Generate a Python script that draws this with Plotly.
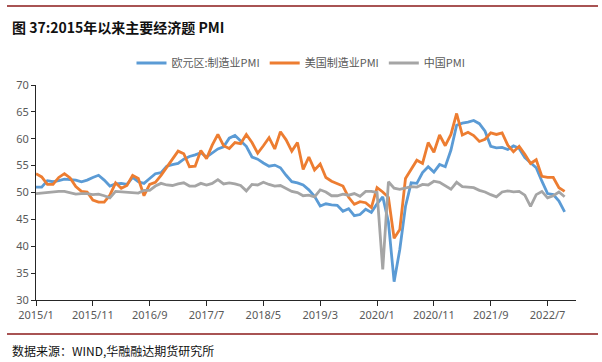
import plotly.graph_objects as go

months = [f"{y}/{m}" for y in range(2015, 2023) for m in range(1, 13)][:94]

euro = [51.0, 51.0, 52.2, 52.0, 52.2, 52.5, 52.4, 52.3, 52.0, 52.3, 52.8, 53.2,
        52.3, 51.2, 51.6, 51.7, 51.5, 52.8, 52.0, 51.7, 52.6, 53.5, 53.7, 54.9,
        55.2, 55.4, 56.2, 56.7, 57.0, 57.4, 56.6, 57.4, 58.1, 58.5, 60.1, 60.6,
        59.6, 58.6, 56.6, 56.2, 55.5, 54.9, 55.1, 54.6, 53.2, 52.0, 51.8, 51.4,
        50.5, 49.3, 47.5, 47.9, 47.7, 47.6, 46.5, 47.0, 45.7, 45.9, 46.9, 46.3,
        47.9, 49.2, 44.5, 33.4, 39.4, 47.4, 51.8, 51.7, 53.7, 54.8, 53.8, 55.2,
        54.8, 57.9, 62.5, 62.9, 63.1, 63.4, 62.8, 61.4, 58.6, 58.3, 58.4, 58.0,
        58.7, 58.2, 56.5, 55.5, 54.6, 52.1, 49.8, 49.6, 48.4, 46.4]

usa = [53.5, 52.9, 51.5, 51.5, 52.8, 53.5, 52.7, 51.1, 50.2, 50.1, 48.6, 48.2,
       48.2, 49.5, 51.8, 50.8, 51.3, 53.2, 52.6, 49.4, 51.5, 51.9, 53.2, 54.7,
       56.0, 57.7, 57.2, 54.8, 54.9, 57.8, 56.3, 58.8, 60.8, 58.7, 58.2, 59.3,
       59.1, 60.8, 59.3, 57.3, 58.7, 60.2, 58.1, 61.3, 59.8, 57.7, 59.3, 54.3,
       56.6, 54.2, 55.3, 52.8, 52.1, 51.7, 51.2, 49.1, 47.8, 48.3, 48.1, 47.2,
       50.9, 50.1, 49.1, 41.5, 43.1, 52.6, 54.2, 56.0, 55.4, 59.3, 57.5, 60.7,
       58.7, 60.8, 64.7, 60.7, 61.2, 60.6, 59.5, 59.9, 61.1, 60.8, 61.1, 58.8,
       57.6, 58.6, 57.1, 55.4, 56.1, 53.0, 52.8, 52.8, 50.9, 50.2]

china = [49.8, 49.9, 50.1, 50.1, 50.2, 50.2, 50.0, 49.7, 49.8, 49.8, 49.6, 49.7,
         49.4, 49.0, 50.2, 50.1, 50.1, 50.0, 49.9, 50.4, 50.4, 51.2, 51.7, 51.4,
         51.3, 51.6, 51.8, 51.2, 51.2, 51.7, 51.4, 51.7, 52.4, 51.6, 51.8, 51.6,
         51.3, 50.3, 51.5, 51.4, 51.9, 51.5, 51.2, 51.3, 50.8, 50.2, 50.0, 49.4,
         49.5, 49.2, 50.5, 50.1, 49.4, 49.4, 49.7, 49.5, 49.8, 49.3, 50.2, 50.2,
         50.0, 35.7, 52.0, 50.8, 50.6, 50.9, 51.1, 51.0, 51.5, 51.4, 52.1, 51.9,
         51.3, 50.6, 51.9, 51.1, 51.0, 50.9, 50.4, 50.1, 49.6, 49.2, 50.1, 50.3,
         50.1, 50.2, 49.5, 47.4, 49.6, 50.2, 49.0, 49.4, 50.1, 49.2]

tick_labels = ["2015/1", "2015/11", "2016/9", "2017/7", "2018/5",
               "2019/3", "2020/1", "2020/11", "2021/9", "2022/7"]
y_ticks = [30, 35, 40, 45, 50, 55, 60, 65, 70]

fig = go.Figure()
series = [("欧元区:制造业PMI", euro, "#5B9BD5"),
          ("美国制造业PMI", usa, "#ED7D31"),
          ("中国PMI", china, "#A5A5A5")]
for name, vals, col in series:
    fig.add_trace(go.Scatter(x=months, y=vals, name=name, mode="lines",
                             line=dict(color=col, width=2.8)))

W0, W1 = 36, 576
T, B = 85, 300
pw, ph = W1 - W0, B - T

def px(x):
    return (x - W0) / pw

def py(y):
    return (B - y) / ph

fig.update_layout(
    width=602, height=362,
    margin=dict(l=W0, r=602 - W1, t=T, b=362 - B, autoexpand=False),
    paper_bgcolor="white", plot_bgcolor="white",
    font=dict(family="Noto Sans CJK SC, sans-serif", color="#595959", size=11),
    showlegend=True,
    legend=dict(orientation="h", x=0.5, xanchor="center", xref="container",
                y=1 - 63 / 362, yanchor="middle", yref="container",
                font=dict(size=11, color="#595959"), itemwidth=30,
                bgcolor="rgba(0,0,0,0)"),
    xaxis=dict(type="category", range=[0, 95], tickmode="array",
               tickvals=tick_labels, ticktext=tick_labels,
               showline=True, linecolor="#262626", linewidth=1,
               ticks="outside", ticklen=5, tickcolor="#262626",
               showgrid=False, zeroline=False,
               tickfont=dict(family="Noto Sans, sans-serif", size=11, color="#595959")),
    yaxis=dict(range=[30, 70], tickvals=y_ticks,
               showline=True, linecolor="#262626", linewidth=1,
               ticks="outside", ticklen=4, tickcolor="#262626",
               showgrid=False, zeroline=False,
               tickfont=dict(family="Noto Sans, sans-serif", size=11, color="#595959")),
    shapes=[
        dict(type="line", xref="paper", yref="paper", x0=px(7), x1=px(598),
             y0=py(6), y1=py(6), line=dict(color="#8B1A1A", width=1.5)),
        dict(type="line", xref="paper", yref="paper", x0=px(7), x1=px(598),
             y0=py(334), y1=py(334), line=dict(color="#8B1A1A", width=1.5)),
    ],
    annotations=[
        dict(text="<b>图 37:2015年以来主要经济题 PMI</b>", xref="paper", yref="paper",
             x=px(10), y=py(27), xanchor="left", yanchor="middle", showarrow=False,
             font=dict(family="Noto Sans CJK SC", size=14, color="#111111")),
        dict(text="数据来源：WIND,华融融达期货研究所", xref="paper", yref="paper",
             x=px(10), y=py(350), xanchor="left", yanchor="middle", showarrow=False,
             font=dict(family="Noto Sans CJK SC", size=12, color="#111111")),
    ],
)

fig.write_html("out.html", config={"displayModeBar": False},
               post_script="document.body.style.margin='0';document.body.style.overflow='hidden';")
